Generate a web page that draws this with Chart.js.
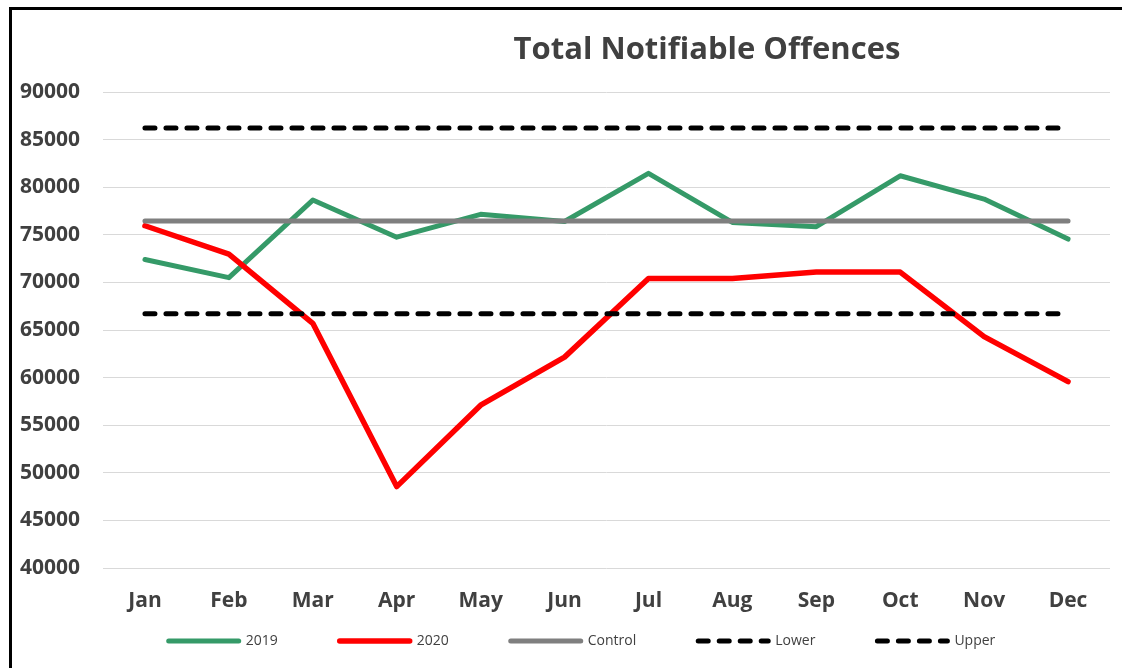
<!DOCTYPE html>
<html>
<head>
<meta charset="utf-8">
<script src="https://cdn.jsdelivr.net/npm/chart.js@4/dist/chart.umd.min.js"></script>
<style>
  html, body { margin: 0; padding: 0; background: #ffffff; }
  #wrap { position: relative; width: 1122px; height: 668px; overflow: hidden; background: #fff; }
  #frame { position: absolute; left: 9px; top: 7px; width: 1200px; height: 800px;
           border-top: 3px solid #000; border-left: 3px solid #000; pointer-events: none; }
  #title { position: absolute; left: 0; top: 26px; width: 1414px; text-align: center;
           font-family: "Open Sans", sans-serif; font-weight: 700; font-size: 31px;
           color: #404040; white-space: nowrap; }
  canvas { position: absolute; left: 0; top: 0; }
</style>
</head>
<body>
<div id="wrap">
  <canvas id="c" width="1122" height="668"></canvas>
  <div id="title">Total Notifiable Offences</div>
  <div id="frame"></div>
</div>
<script>
const months = ["Jan","Feb","Mar","Apr","May","Jun","Jul","Aug","Sep","Oct","Nov","Dec"];
const values2019 = [72400, 70500, 78650, 74750, 77150, 76400, 81450, 76300, 75850, 81200, 78750, 74550];
const values2020 = [75950, 72980, 65700, 48550, 57100, 62150, 70400, 70420, 71100, 71080, 64300, 59580];
const controlValues = [76450, 76450, 76450, 76450, 76450, 76450, 76450, 76450, 76450, 76450, 76450, 76450];
const lowerValues = [66720, 66720, 66720, 66720, 66720, 66720, 66720, 66720, 66720, 66720, 66720, 66720];
const upperValues = [86230, 86230, 86230, 86230, 86230, 86230, 86230, 86230, 86230, 86230, 86230, 86230];
const yTicks = [40000, 45000, 50000, 55000, 60000, 65000, 70000, 75000, 80000, 85000, 90000];

const X_AXIS_H = 46;
const LEGEND_H = 668 - 92 - 476 - X_AXIS_H;
const legendPlugin = {
  id: 'legendPlace',
  beforeInit(chart) {
    const lg = chart.legend;
    if (lg) {
      const orig = lg.fit;
      lg.fit = function () { orig.call(this); this.height = LEGEND_H; };
    }
  },
  afterLayout(chart) {
    const lg = chart.legend;
    if (lg) {
      const dx = 22;
      lg.left += dx; lg.right += dx;
      lg.top = 572; lg.bottom = 668;
      lg.height = lg.bottom - lg.top;
    }
  }
};

function lineDs(label, data, color, width, dash) {
  return {
    label, data,
    borderColor: color, backgroundColor: color,
    borderWidth: width,
    borderDash: dash || [],
    borderCapStyle: 'round',
    borderJoinStyle: 'round',
    pointRadius: 0, pointHoverRadius: 0,
    tension: 0, fill: false
  };
}

// Excel draws later series on top; Chart.js draws dataset 0 on top, so list in reverse and reverse legend.
const datasets = [
  lineDs('Upper', upperValues, '#000000', 5, [10, 11]),
  lineDs('Lower', lowerValues, '#000000', 5, [10, 11]),
  lineDs('Control', controlValues, '#7f7f7f', 5),
  lineDs('2020', values2020, '#ff0000', 5.5),
  lineDs('2019', values2019, '#359a68', 5)
];

new Chart(document.getElementById('c'), {
  type: 'line',
  data: { labels: months, datasets },
  plugins: [legendPlugin],
  options: {
    responsive: false,
    animation: false,
    devicePixelRatio: 1,
    layout: { padding: { left: 10, right: 12, top: 92, bottom: 0 } },
    plugins: {
      title: { display: false },
      tooltip: { enabled: false },
      legend: {
        display: true,
        position: 'bottom',
        reverse: true,
        labels: {
          usePointStyle: true,
          pointStyle: 'line',
          pointStyleWidth: 70,
          boxWidth: 70,
          boxHeight: 14,
          padding: 62,
          color: '#404040',
          font: { family: '"Open Sans", sans-serif', size: 14 },
          generateLabels(chart) {
            const items = Chart.defaults.plugins.legend.labels.generateLabels(chart);
            items.forEach(it => {
              const ds = chart.data.datasets[it.datasetIndex];
              it.lineDash = ds.borderDash;
              it.lineDashOffset = 0;
              it.lineCap = 'round';
              it.lineWidth = ds.borderWidth;
              it.strokeStyle = ds.borderColor;
              it.fillStyle = ds.borderColor;
              it.pointStyle = 'line';
            });
            return items;
          }
        }
      }
    },
    scales: {
      x: {
        type: 'category',
        offset: true,
        grid: { display: false, drawTicks: false },
        border: { display: false },
        ticks: {
          color: '#404040',
          padding: 20,
          maxRotation: 0,
          autoSkip: false,
          font: { family: '"Open Sans", sans-serif', size: 21, weight: 'bold' }
        },
        afterFit(scale) { scale.height = X_AXIS_H; }
      },
      y: {
        min: 40000,
        max: 90000,
        afterBuildTicks(scale) { scale.ticks = yTicks.map(v => ({ value: v })); },
        grid: { color: '#d9d9d9', lineWidth: 1, drawTicks: false },
        border: { display: false },
        ticks: {
          color: '#404040',
          padding: 23,
          callback: (v) => String(v),
          font: { family: '"Open Sans", sans-serif', size: 21, weight: 'bold' }
        },
        afterFit(scale) { scale.width = 93; }
      }
    }
  }
});
</script>
</body>
</html>
